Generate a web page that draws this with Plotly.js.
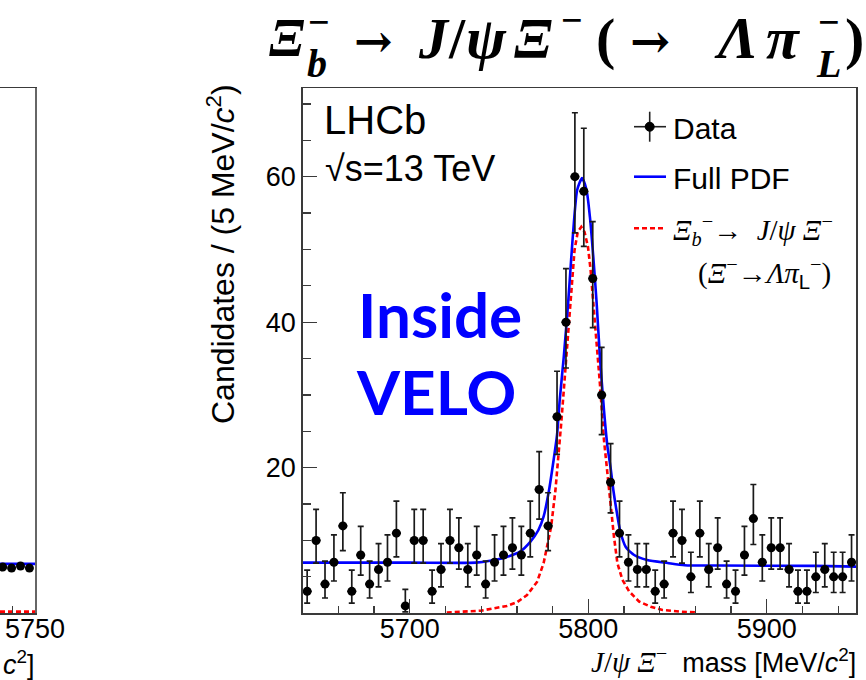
<!DOCTYPE html>
<html>
<head>
<meta charset="utf-8">
<script src="https://cdn.plot.ly/plotly-3.0.1.min.js"></script>
<style>html,body{margin:0;padding:0;background:#fff;}#chart{width:866px;height:680px;}</style>
</head>
<body>
<div id="chart"></div>
<script>
// ---------------- data ----------------
const binLow = 5640;      // MeV/c2, histogram lower edge
const binWidth = 5;       // MeV/c2
const counts = [3,10,4,7,12,3,8,4,6,7,11,1,
  10,10,3,6,10,9,6,8,4,7,8,9,8,11,17,12,
  27,40,60,58,46,30,
  18,11,7,6,6,3,4,11,10,5,11,6,9,4,3,8,13,7,9,9,6,3,3,5,6,5,5,7];

// Full PDF curve (blue)
const pdfMass = [5640,5700,5737,5745,5754,5762,5767.5,5772,5775,5778,5780.6,5782.5,5784,5786.3,5788.7,5790.4,5791.9,5793.8,5796.5,5799,5800.9,5802.8,5804.7,5806.5,5808.8,5810.7,5812.5,5814,5815.5,5817.8,5821,5825.7,5833,5844.5,5854,5873,5927,5950];
const pdfVal  = [6.95,6.95,6.95,7.2,7.7,8.5,9.8,11.4,13.3,16.9,21.1,24.5,29.3,35.3,42.6,48.6,53.6,58.2,59.8,58.2,54.5,49,42.6,35.3,27.9,23,20,17,14.6,11.4,9.1,8.0,7.3,6.9,6.6,6.55,6.5,6.4];

// Signal component (red dotted)
const sigMass = [5720.7,5740,5754.4,5760,5765.7,5771.3,5775,5776.9,5779.2,5781.6,5783.5,5784.8,5786.3,5788.2,5790.6,5792.3,5794.1,5796.1,5797.9,5799.8,5801.3,5802.8,5805.1,5806.5,5808.8,5810.7,5812.5,5814.4,5816.3,5819.1,5822.9,5828.5,5835,5841.6,5852,5860.4];
const sigVal  = [0.1,0.35,1.0,1.5,2.5,4.3,6.9,9.1,11.9,16.9,22,26,30.7,36.6,44.4,49.9,52.4,53.1,52.4,50.4,47.2,42.6,36.6,31.6,23.8,19.2,14.6,10.5,6.9,4.6,3.0,1.6,0.9,0.45,0.2,0.1];

// cut-off neighbouring panel on the left (only its right edge is visible)
const leftMass = [5735.5,5739.5,5743.5,5747.5];
const leftVal  = [8.8,8.6,9.0,8.6];
const leftPdfMass = [5734.3,5750];
const leftPdfVal  = [9.4,9.4];
const leftSigMass = [5734.3,5750];
const leftSigVal  = [0.3,0.3];

const yTickVals = [20,40,60];

// ---------------- helpers ----------------
const W = 866, H = 680;
const fx = p => p / W;
const fy = p => 1 - p / H;

// Garwood (Poisson) asymmetric errors, Wilson-Hilferty approximation
function poisUp(n){ const m=n+1; return m*Math.pow(1-1/(9*m)+1/(3*Math.sqrt(m)),3)-n; }
function poisLo(n){ if(n<=0) return 0; return n-n*Math.pow(1-1/(9*n)-1/(3*Math.sqrt(n)),3); }

const mass = counts.map((_, i) => binLow + binWidth*(i+0.5));
const errUp = counts.map(poisUp);
const errLo = counts.map(poisLo);

const SANS = 'Liberation Sans, Arial, sans-serif';
const SERIF = 'Liberation Serif, Times New Roman, serif';
const DSERIF = 'DejaVu Serif, serif';
const frameCol = '#3a3a3a';

function txt(text, xl, ym, size, family, color){
  return {xref:'paper', yref:'paper', x:fx(xl), y:fy(ym), xanchor:'left', yanchor:'middle',
    showarrow:false, text:text, font:{family:family, size:size, color:color||'#000'}};
}

const traces = [
  {x: sigMass, y: sigVal, type:'scatter', mode:'lines', xaxis:'x', yaxis:'y',
   line:{color:'#ff0000', width:2.6, dash:'5px,3px'}, hoverinfo:'skip'},
  {x: pdfMass, y: pdfVal, type:'scatter', mode:'lines', xaxis:'x', yaxis:'y',
   line:{color:'#0000ff', width:2.6, shape:'spline', smoothing:0.6}, hoverinfo:'skip'},
  {x: mass, y: counts, type:'scatter', mode:'markers', xaxis:'x', yaxis:'y',
   marker:{color:'#000', size:9},
   error_y:{type:'data', symmetric:false, array:errUp, arrayminus:errLo, color:'#1a1a1a', thickness:1.7, width:3},
   error_x:{type:'constant', value:binWidth/2, color:'#1a1a1a', thickness:1.7, width:0}},
  // left neighbour fragment
  {x: leftSigMass, y: leftSigVal, type:'scatter', mode:'lines', xaxis:'x2', yaxis:'y2',
   line:{color:'#ff0000', width:2.6, dash:'5px,3px'}},
  {x: leftPdfMass, y: leftPdfVal, type:'scatter', mode:'lines', xaxis:'x2', yaxis:'y2',
   line:{color:'#0000ff', width:2.6}},
  {x: leftMass, y: leftVal, type:'scatter', mode:'markers', xaxis:'x2', yaxis:'y2',
   marker:{color:'#000', size:9}}
];

const yDom = [fy(613.2), fy(88.3)];

const annotations = [
  // title, glyph by glyph
  txt('<b><i>Ξ</i></b>', 267, 38, 54, SERIF),
  txt('<b><i>b</i></b>', 305, 63, 40, SERIF),
  txt('<b>−</b>', 306, 22, 38, SERIF),
  txt('<b>→</b>', 352, 41, 46, DSERIF),
  txt('<b><i>J</i></b>', 416, 38, 58, SERIF),
  txt('<b>/</b>', 446, 38, 58, SERIF),
  txt('<b><i>ψ</i></b>', 464, 38, 60, SERIF),
  txt('<b><i>Ξ</i></b>', 512, 38, 58, SERIF),
  txt('<b>−</b>', 559, 20, 38, SERIF),
  txt('<b>(</b>', 594, 38, 58, SERIF),
  txt('<b>→</b>', 628, 41, 48, DSERIF),
  txt('<b><i>Λ</i></b>', 712, 38, 60, SERIF),
  txt('<b><i>π</i></b>', 764, 38, 60, SERIF),
  txt('<b><i>L</i></b>', 814, 63, 40, SERIF),
  txt('<b>−</b>', 816, 22, 38, SERIF),
  txt('<b>)</b>', 843, 38, 58, SERIF),
  // LHCb labels
  txt('LHCb', 322, 120, 40, SANS),
  txt('√s=13 TeV', 323, 168, 36, SANS),
  // Inside VELO
  txt('<b>Inside</b>', 356, 314, 62, 'Lato, sans-serif', '#0000ff'),
  txt('<b>VELO</b>', 354, 391, 62, 'Lato, sans-serif', '#0000ff'),
  // legend text
  txt('Data', 671, 128, 30, SANS),
  txt('Full PDF', 671, 179, 30, SANS),
  txt('<i>Ξ</i><sub><i>b</i></sub><sup>−</sup>→  <i>J</i>/<i>ψ Ξ</i><sup>−</sup>', 671, 230, 29, SERIF),
  txt('(<i>Ξ</i><sup>−</sup>→<i>Λπ</i><sub><span style="font-family:Liberation Sans">L</span></sub><sup>−</sup>)', 696, 273, 29, SERIF),
  // axis titles
  {xref:'paper', yref:'paper', x:fx(221), y:fy(254), xanchor:'center', yanchor:'middle', showarrow:false, textangle:-90,
   text:'Candidates / (5 MeV/<i>c</i><sup>2</sup>)', font:{family:SANS, size:32, color:'#000'}},
  {xref:'paper', yref:'paper', x:fx(858), y:fy(660), xanchor:'right', yanchor:'middle', showarrow:false,
   text:'<span style="font-family:Liberation Serif;font-size:29px"><i>J</i>/<i>ψ Ξ</i><sup>−</sup></span>  mass [MeV/<i>c</i><sup>2</sup>]', font:{family:SANS, size:27, color:'#000'}},
  {xref:'paper', yref:'paper', x:fx(37), y:fy(663), xanchor:'right', yanchor:'middle', showarrow:false,
   text:'<i>c</i><sup>2</sup>]', font:{family:SANS, size:27, color:'#000'}}
];

const layout = {
  width: W, height: H,
  margin:{l:0, r:0, t:0, b:0},
  paper_bgcolor:'#fff', plot_bgcolor:'#fff',
  showlegend:false,
  xaxis:{domain:[fx(302.7), fx(856)], range:[5640,5950], anchor:'y',
    tickmode:'linear', tick0:5700, dtick:100,
    ticks:'inside', ticklen:14, tickwidth:1.3, tickcolor:frameCol,
    ticklabelstandoff:-9,
    minor:{tickmode:'linear', tick0:5700, dtick:20, ticks:'inside', ticklen:7, tickwidth:1.3, tickcolor:frameCol},
    showline:true, mirror:true, linecolor:frameCol, linewidth:1.5,
    showgrid:false, zeroline:false,
    tickfont:{family:SANS, size:27, color:'#000'}},
  yaxis:{domain:yDom, range:[0,72.15], anchor:'x',
    tickmode:'array', tickvals:yTickVals,
    ticks:'inside', ticklen:14, tickwidth:1.3, tickcolor:frameCol,
    minor:{tickmode:'linear', tick0:0, dtick:5, ticks:'inside', ticklen:8, tickwidth:1.3, tickcolor:frameCol},
    showline:true, mirror:true, linecolor:frameCol, linewidth:1.5,
    showgrid:false, zeroline:false,
    tickfont:{family:SANS, size:27, color:'#000'}},
  xaxis2:{domain:[0, fx(35)], range:[5734.3,5750], anchor:'y2',
    tickmode:'array', tickvals:[5750], ticktext:['5750'], ticks:'',
    ticklabelstandoff:-9,
    minor:{tickmode:'array', tickvals:[5740], ticks:'inside', ticklen:7, tickwidth:1.3, tickcolor:frameCol},
    showline:true, mirror:true, linecolor:frameCol, linewidth:1.5,
    showgrid:false, zeroline:false,
    tickfont:{family:SANS, size:27, color:'#000'}},
  yaxis2:{domain:yDom, range:[0,100], anchor:'x2', side:'right',
    showticklabels:false, ticks:'', showline:true, linecolor:'#666', linewidth:1.5,
    showgrid:false, zeroline:false},
  shapes:[
    // legend: Data marker cross
    {type:'line', xref:'paper', yref:'paper', x0:fx(634), x1:fx(666), y0:fy(126.7), y1:fy(126.7), line:{color:'#222', width:1.6}},
    {type:'line', xref:'paper', yref:'paper', x0:fx(649.7), x1:fx(649.7), y0:fy(111.7), y1:fy(141.7), line:{color:'#222', width:1.6}},
    {type:'circle', xref:'paper', yref:'paper', x0:fx(645.2), x1:fx(654.2), y0:fy(122.2), y1:fy(131.2), fillcolor:'#000', line:{color:'#000', width:1}},
    // legend: Full PDF line
    {type:'line', xref:'paper', yref:'paper', x0:fx(634), x1:fx(666), y0:fy(176.7), y1:fy(176.7), line:{color:'#0000ff', width:2.6}},
    // legend: signal line
    {type:'line', xref:'paper', yref:'paper', x0:fx(634), x1:fx(666), y0:fy(228.3), y1:fy(228.3), line:{color:'#ff0000', width:2.6, dash:'5px,3px'}}
  ],
  annotations: annotations
};

Plotly.newPlot('chart', traces, layout, {displayModeBar:false, staticPlot:true});
</script>
</body>
</html>
